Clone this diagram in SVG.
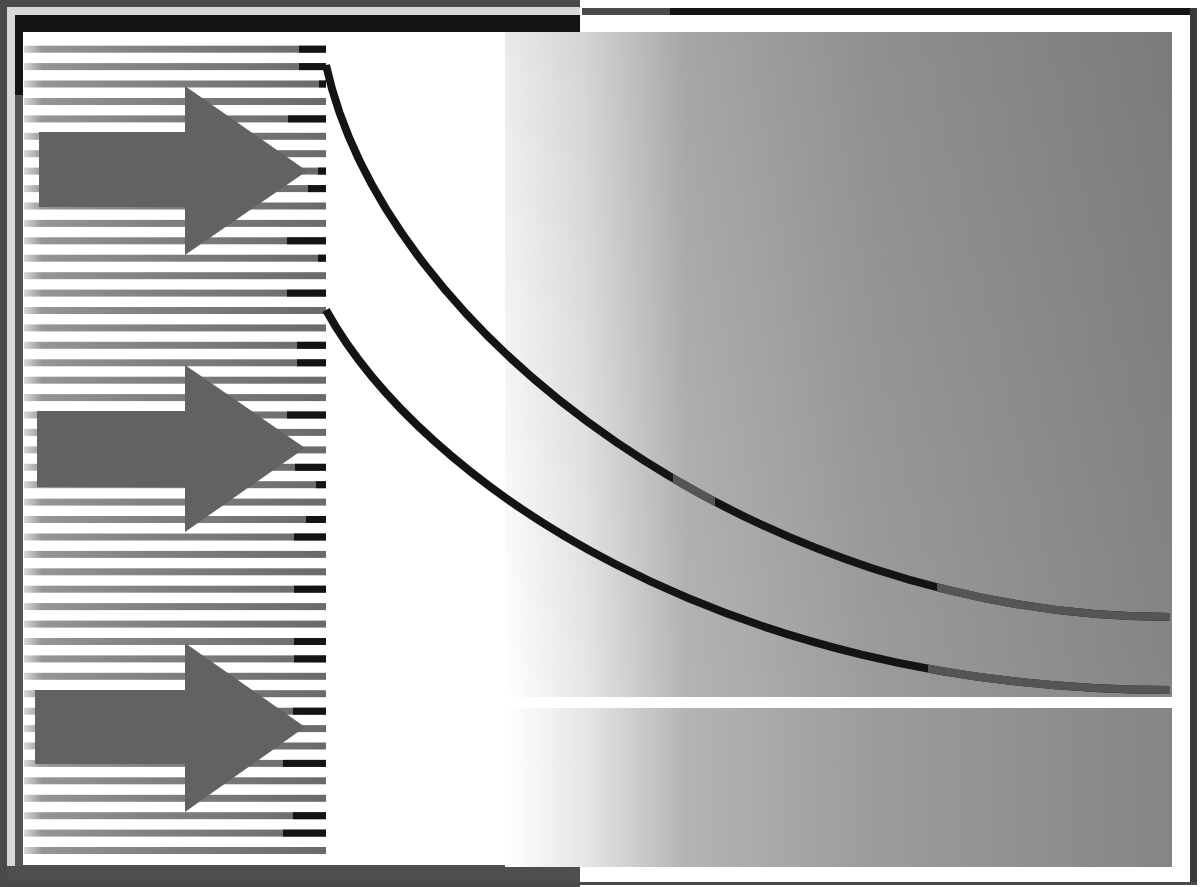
<svg xmlns="http://www.w3.org/2000/svg" width="1202" height="887" viewBox="0 0 1202 887">
<style>
.st{fill:url(#stripeGrad)}
.bk{fill:#141414}
.arrow{fill:#626262}
.curve{fill:none;stroke:#141414;stroke-width:8}
.curveG{fill:none;stroke:#555555;stroke-width:8}
</style>
<defs>
<linearGradient id="stripeGrad" gradientUnits="userSpaceOnUse" x1="24" y1="0" x2="326" y2="0">
<stop offset="0" stop-color="#d8d8d8"/>
<stop offset="0.06" stop-color="#959595"/>
<stop offset="0.4" stop-color="#828282"/>
<stop offset="1" stop-color="#6a6a6a"/>
</linearGradient>
<linearGradient id="panelGrad" gradientUnits="userSpaceOnUse" x1="505" y1="0" x2="1172" y2="0">
<stop offset="0" stop-color="#ffffff"/>
<stop offset="0.12" stop-color="#e6e6e6"/>
<stop offset="0.27" stop-color="#b4b4b4"/>
<stop offset="0.55" stop-color="#9c9c9c"/>
<stop offset="1" stop-color="#858585"/>
</linearGradient>
<linearGradient id="shade" x1="0" y1="0" x2="0" y2="1">
<stop offset="0" stop-color="#000" stop-opacity="0.08"/>
<stop offset="1" stop-color="#000" stop-opacity="0"/>
</linearGradient>
<clipPath id="g1"><rect x="673" y="0" width="42" height="887"/><rect x="937" y="0" width="240" height="887"/></clipPath>
<clipPath id="g2"><rect x="928" y="0" width="250" height="887"/></clipPath>
</defs>

<rect x="0" y="0" width="1202" height="887" fill="#ffffff"/>

<g id="left-frame">
<rect x="0" y="0" width="580" height="887" fill="#4a4a4a"/>
<rect x="7" y="7" width="573" height="875" fill="#d8d8d8"/>
<rect x="15" y="15" width="565" height="852" fill="#555555"/>
<rect x="15" y="15" width="565" height="17" fill="#141414"/>
<rect x="15" y="15" width="12" height="80" fill="#141414"/>
<rect x="23" y="32" width="557" height="833" fill="#ffffff"/>
<rect x="7" y="866" width="573" height="16" fill="#4e4e4e"/>
</g>

<g id="right-frame">
<rect x="582" y="8" width="90" height="7" fill="#4a4a4a"/>
<rect x="670" y="8" width="522" height="7" fill="#141414"/>
<rect x="1190" y="8" width="7" height="876" fill="#3a3a3a"/>
<rect x="580" y="882" width="617" height="3" fill="#4a4a4a"/>
</g>

<g id="panel-top">
<rect x="505" y="32" width="667" height="665" fill="url(#panelGrad)"/>
<rect x="505" y="32" width="667" height="665" fill="url(#shade)"/>
</g>
<g id="panel-bottom">
<rect x="505" y="708" width="667" height="159" fill="url(#panelGrad)"/>
</g>

<g id="stripes">
<rect class="st" x="24" y="45.7" width="302" height="7"/>
<rect class="st" x="24" y="63.1" width="302" height="7"/>
<rect class="st" x="24" y="80.5" width="302" height="7"/>
<rect class="st" x="24" y="98.0" width="302" height="7"/>
<rect class="st" x="24" y="115.4" width="302" height="7"/>
<rect class="st" x="24" y="132.8" width="302" height="7"/>
<rect class="st" x="24" y="150.2" width="302" height="7"/>
<rect class="st" x="24" y="167.6" width="302" height="7"/>
<rect class="st" x="24" y="185.1" width="302" height="7"/>
<rect class="st" x="24" y="202.5" width="302" height="7"/>
<rect class="st" x="24" y="219.9" width="302" height="7"/>
<rect class="st" x="24" y="237.3" width="302" height="7"/>
<rect class="st" x="24" y="254.7" width="302" height="7"/>
<rect class="st" x="24" y="272.2" width="302" height="7"/>
<rect class="st" x="24" y="289.6" width="302" height="7"/>
<rect class="st" x="24" y="307.0" width="302" height="7"/>
<rect class="st" x="24" y="324.4" width="302" height="7"/>
<rect class="st" x="24" y="341.8" width="302" height="7"/>
<rect class="st" x="24" y="359.3" width="302" height="7"/>
<rect class="st" x="24" y="376.7" width="302" height="7"/>
<rect class="st" x="24" y="394.1" width="302" height="7"/>
<rect class="st" x="24" y="411.5" width="302" height="7"/>
<rect class="st" x="24" y="428.9" width="302" height="7"/>
<rect class="st" x="24" y="446.4" width="302" height="7"/>
<rect class="st" x="24" y="463.8" width="302" height="7"/>
<rect class="st" x="24" y="481.2" width="302" height="7"/>
<rect class="st" x="24" y="498.6" width="302" height="7"/>
<rect class="st" x="24" y="516.0" width="302" height="7"/>
<rect class="st" x="24" y="533.5" width="302" height="7"/>
<rect class="st" x="24" y="550.9" width="302" height="7"/>
<rect class="st" x="24" y="568.3" width="302" height="7"/>
<rect class="st" x="24" y="585.7" width="302" height="7"/>
<rect class="st" x="24" y="603.1" width="302" height="7"/>
<rect class="st" x="24" y="620.6" width="302" height="7"/>
<rect class="st" x="24" y="638.0" width="302" height="7"/>
<rect class="st" x="24" y="655.4" width="302" height="7"/>
<rect class="st" x="24" y="672.8" width="302" height="7"/>
<rect class="st" x="24" y="690.2" width="302" height="7"/>
<rect class="st" x="24" y="707.7" width="302" height="7"/>
<rect class="st" x="24" y="725.1" width="302" height="7"/>
<rect class="st" x="24" y="742.5" width="302" height="7"/>
<rect class="st" x="24" y="759.9" width="302" height="7"/>
<rect class="st" x="24" y="777.3" width="302" height="7"/>
<rect class="st" x="24" y="794.8" width="302" height="7"/>
<rect class="st" x="24" y="812.2" width="302" height="7"/>
<rect class="st" x="24" y="829.6" width="302" height="7"/>
<rect class="st" x="24" y="847.0" width="302" height="7"/>
</g>

<g id="stripe-ends">
<rect class="bk" x="299" y="45.7" width="27" height="7"/>
<rect class="bk" x="299" y="63.1" width="27" height="7"/>
<rect class="bk" x="319" y="80.5" width="7" height="7"/>
<rect class="bk" x="288" y="115.4" width="38" height="7"/>
<rect class="bk" x="318" y="167.6" width="8" height="7"/>
<rect class="bk" x="308" y="185.1" width="18" height="7"/>
<rect class="bk" x="287" y="237.3" width="39" height="7"/>
<rect class="bk" x="318" y="254.7" width="8" height="7"/>
<rect class="bk" x="287" y="289.6" width="39" height="7"/>
<rect class="bk" x="297" y="341.8" width="29" height="7"/>
<rect class="bk" x="297" y="359.3" width="29" height="7"/>
<rect class="bk" x="287" y="411.5" width="39" height="7"/>
<rect class="bk" x="295" y="463.8" width="31" height="7"/>
<rect class="bk" x="316" y="481.2" width="10" height="7"/>
<rect class="bk" x="306" y="516.0" width="20" height="7"/>
<rect class="bk" x="294" y="533.5" width="32" height="7"/>
<rect class="bk" x="294" y="585.7" width="32" height="7"/>
<rect class="bk" x="294" y="638.0" width="32" height="7"/>
<rect class="bk" x="294" y="655.4" width="32" height="7"/>
<rect class="bk" x="293" y="707.7" width="33" height="7"/>
<rect class="bk" x="283" y="759.9" width="43" height="7"/>
<rect class="bk" x="293" y="812.2" width="33" height="7"/>
<rect class="bk" x="283" y="829.6" width="43" height="7"/>
</g>

<g id="arrow-1"><polygon class="arrow" points="39,132 185,132 185,86 307,171 185,255 185,207 39,207"/></g>
<g id="arrow-2"><polygon class="arrow" points="37,411 185,411 185,365 305,448 185,532 185,487 37,487"/></g>
<g id="arrow-3"><polygon class="arrow" points="35,690 185,690 185,643 305,727 185,812 185,764 35,764"/></g>

<g id="connectors">
<path class="curve" d="M326,65 C385,335 760,617 1170,617"/>
<path class="curveG" clip-path="url(#g1)" d="M326,65 C385,335 760,617 1170,617"/>
<path class="curve" d="M326,310 C420,480 720,690 1170,690"/>
<path class="curveG" clip-path="url(#g2)" d="M326,310 C420,480 720,690 1170,690"/>
</g>
</svg>
